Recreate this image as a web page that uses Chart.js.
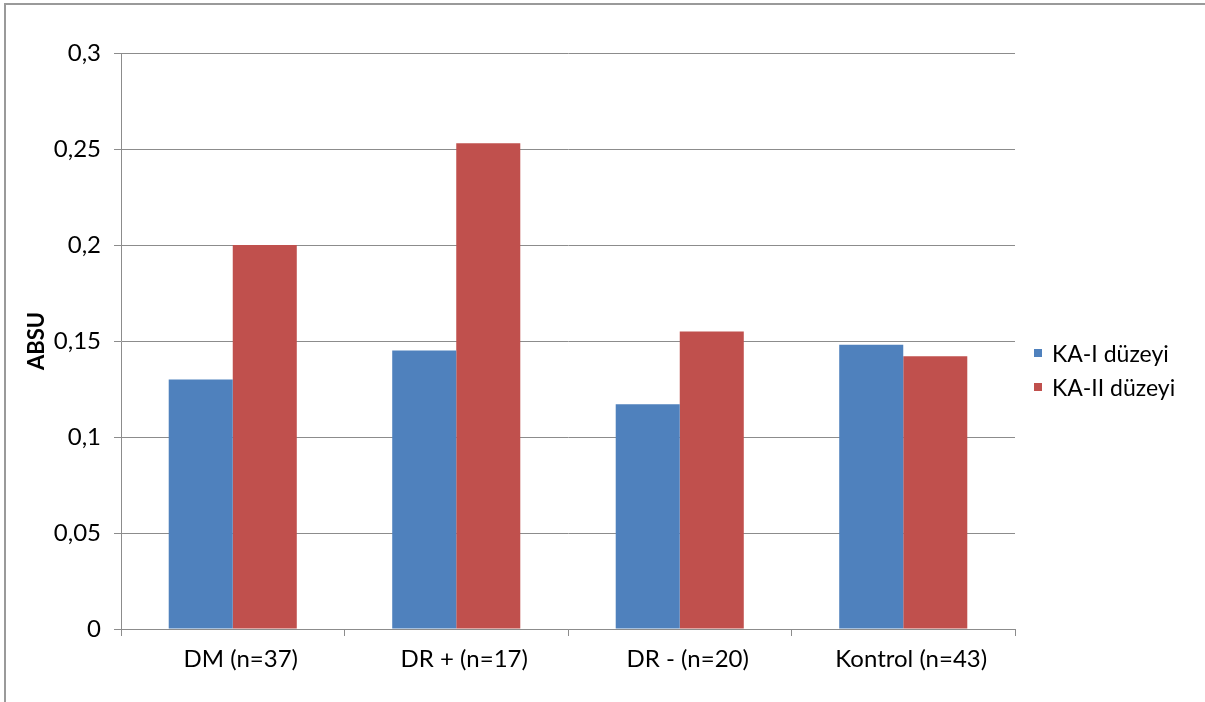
<!DOCTYPE html>
<html>
<head>
<meta charset="utf-8">
<script src="https://cdn.jsdelivr.net/npm/chart.js@4.4.1/dist/chart.umd.min.js"></script>
<style>
  html, body { margin: 0; padding: 0; background: #ffffff; }
  #wrap { position: relative; width: 1205px; height: 702px; }
</style>
</head>
<body>
<div id="wrap"><canvas id="c" width="1205" height="702"></canvas></div>
<script>
// Groups and mean ABSU values per group
const groups = ['DM (n=37)', 'DR + (n=17)', 'DR - (n=20)', 'Kontrol (n=43)'];
const kaI = [0.13, 0.145, 0.117, 0.148];
const kaII = [0.2, 0.253, 0.155, 0.142];
const seriesNames = ['KA-I düzeyi', 'KA-II düzeyi'];
const seriesColors = ['#4F81BD', '#C0504D'];

const FONT = 'Lato, "Open Sans", sans-serif';
const FSIZE = 24;
const GRID = '#8c8c8c';

// Thin frame along the top and left edges of the canvas
const framePlugin = {
  id: 'frame',
  beforeDraw(chart) {
    const ctx = chart.ctx;
    ctx.save();
    ctx.strokeStyle = '#9a9a9a';
    ctx.lineWidth = 2;
    ctx.beginPath();
    ctx.moveTo(5, 702);
    ctx.lineTo(5, 4);
    ctx.lineTo(1205, 4);
    ctx.stroke();
    ctx.restore();
  }
};

// Legend on the right: small square markers followed by series names
const sideLegend = {
  id: 'sideLegend',
  afterDraw(chart) {
    const ctx = chart.ctx;
    ctx.save();
    ctx.font = '23px ' + FONT;
    ctx.textBaseline = 'alphabetic';
    ctx.textAlign = 'left';
    chart.data.datasets.forEach((ds, i) => {
      const y = 362 + i * 34;
      ctx.fillStyle = ds.backgroundColor;
      ctx.fillRect(1034, y - 13, 8, 8);
      ctx.fillStyle = '#000';
      ctx.fillText(ds.label, 1052, y);
    });
    ctx.restore();
  }
};

new Chart(document.getElementById('c'), {
  type: 'bar',
  data: {
    labels: groups,
    datasets: [
      { label: seriesNames[0], data: kaI, backgroundColor: seriesColors[0] },
      { label: seriesNames[1], data: kaII, backgroundColor: seriesColors[1] }
    ]
  },
  options: {
    responsive: false,
    animation: false,
    devicePixelRatio: 1,
    layout: { padding: { left: 0, right: 190, top: 53, bottom: 0 } },
    datasets: { bar: { categoryPercentage: 0.573, barPercentage: 1.0 } },
    plugins: {
      legend: { display: false },
      tooltip: { enabled: false }
    },
    scales: {
      x: {
        grid: { display: true, drawOnChartArea: false, drawTicks: true, tickLength: 7, color: GRID, offset: true },
        border: { display: true, color: GRID, width: 1 },
        ticks: { color: '#000', font: { family: FONT, size: FSIZE }, padding: 9, maxRotation: 0, labelOffset: 8 },
        afterFit(scale) { scale.height = 73; }
      },
      y: {
        min: 0,
        max: 0.3,
        ticks: {
          stepSize: 0.05,
          color: '#000',
          font: { family: FONT, size: FSIZE },
          padding: 13,
          callback: v => (Math.round(v * 100) / 100).toString().replace('.', ',')
        },
        grid: { color: GRID, lineWidth: 1, tickLength: 7, drawTicks: true },
        border: { display: true, color: GRID, width: 1 },
        title: {
          display: true,
          text: 'ABSU',
          color: '#000',
          font: { family: FONT, size: 22, weight: 'bold' },
          padding: { top: 24, bottom: 0 }
        },
        afterFit(scale) { scale.width = 121; }
      }
    }
  },
  plugins: [framePlugin, sideLegend]
});
</script>
</body>
</html>
